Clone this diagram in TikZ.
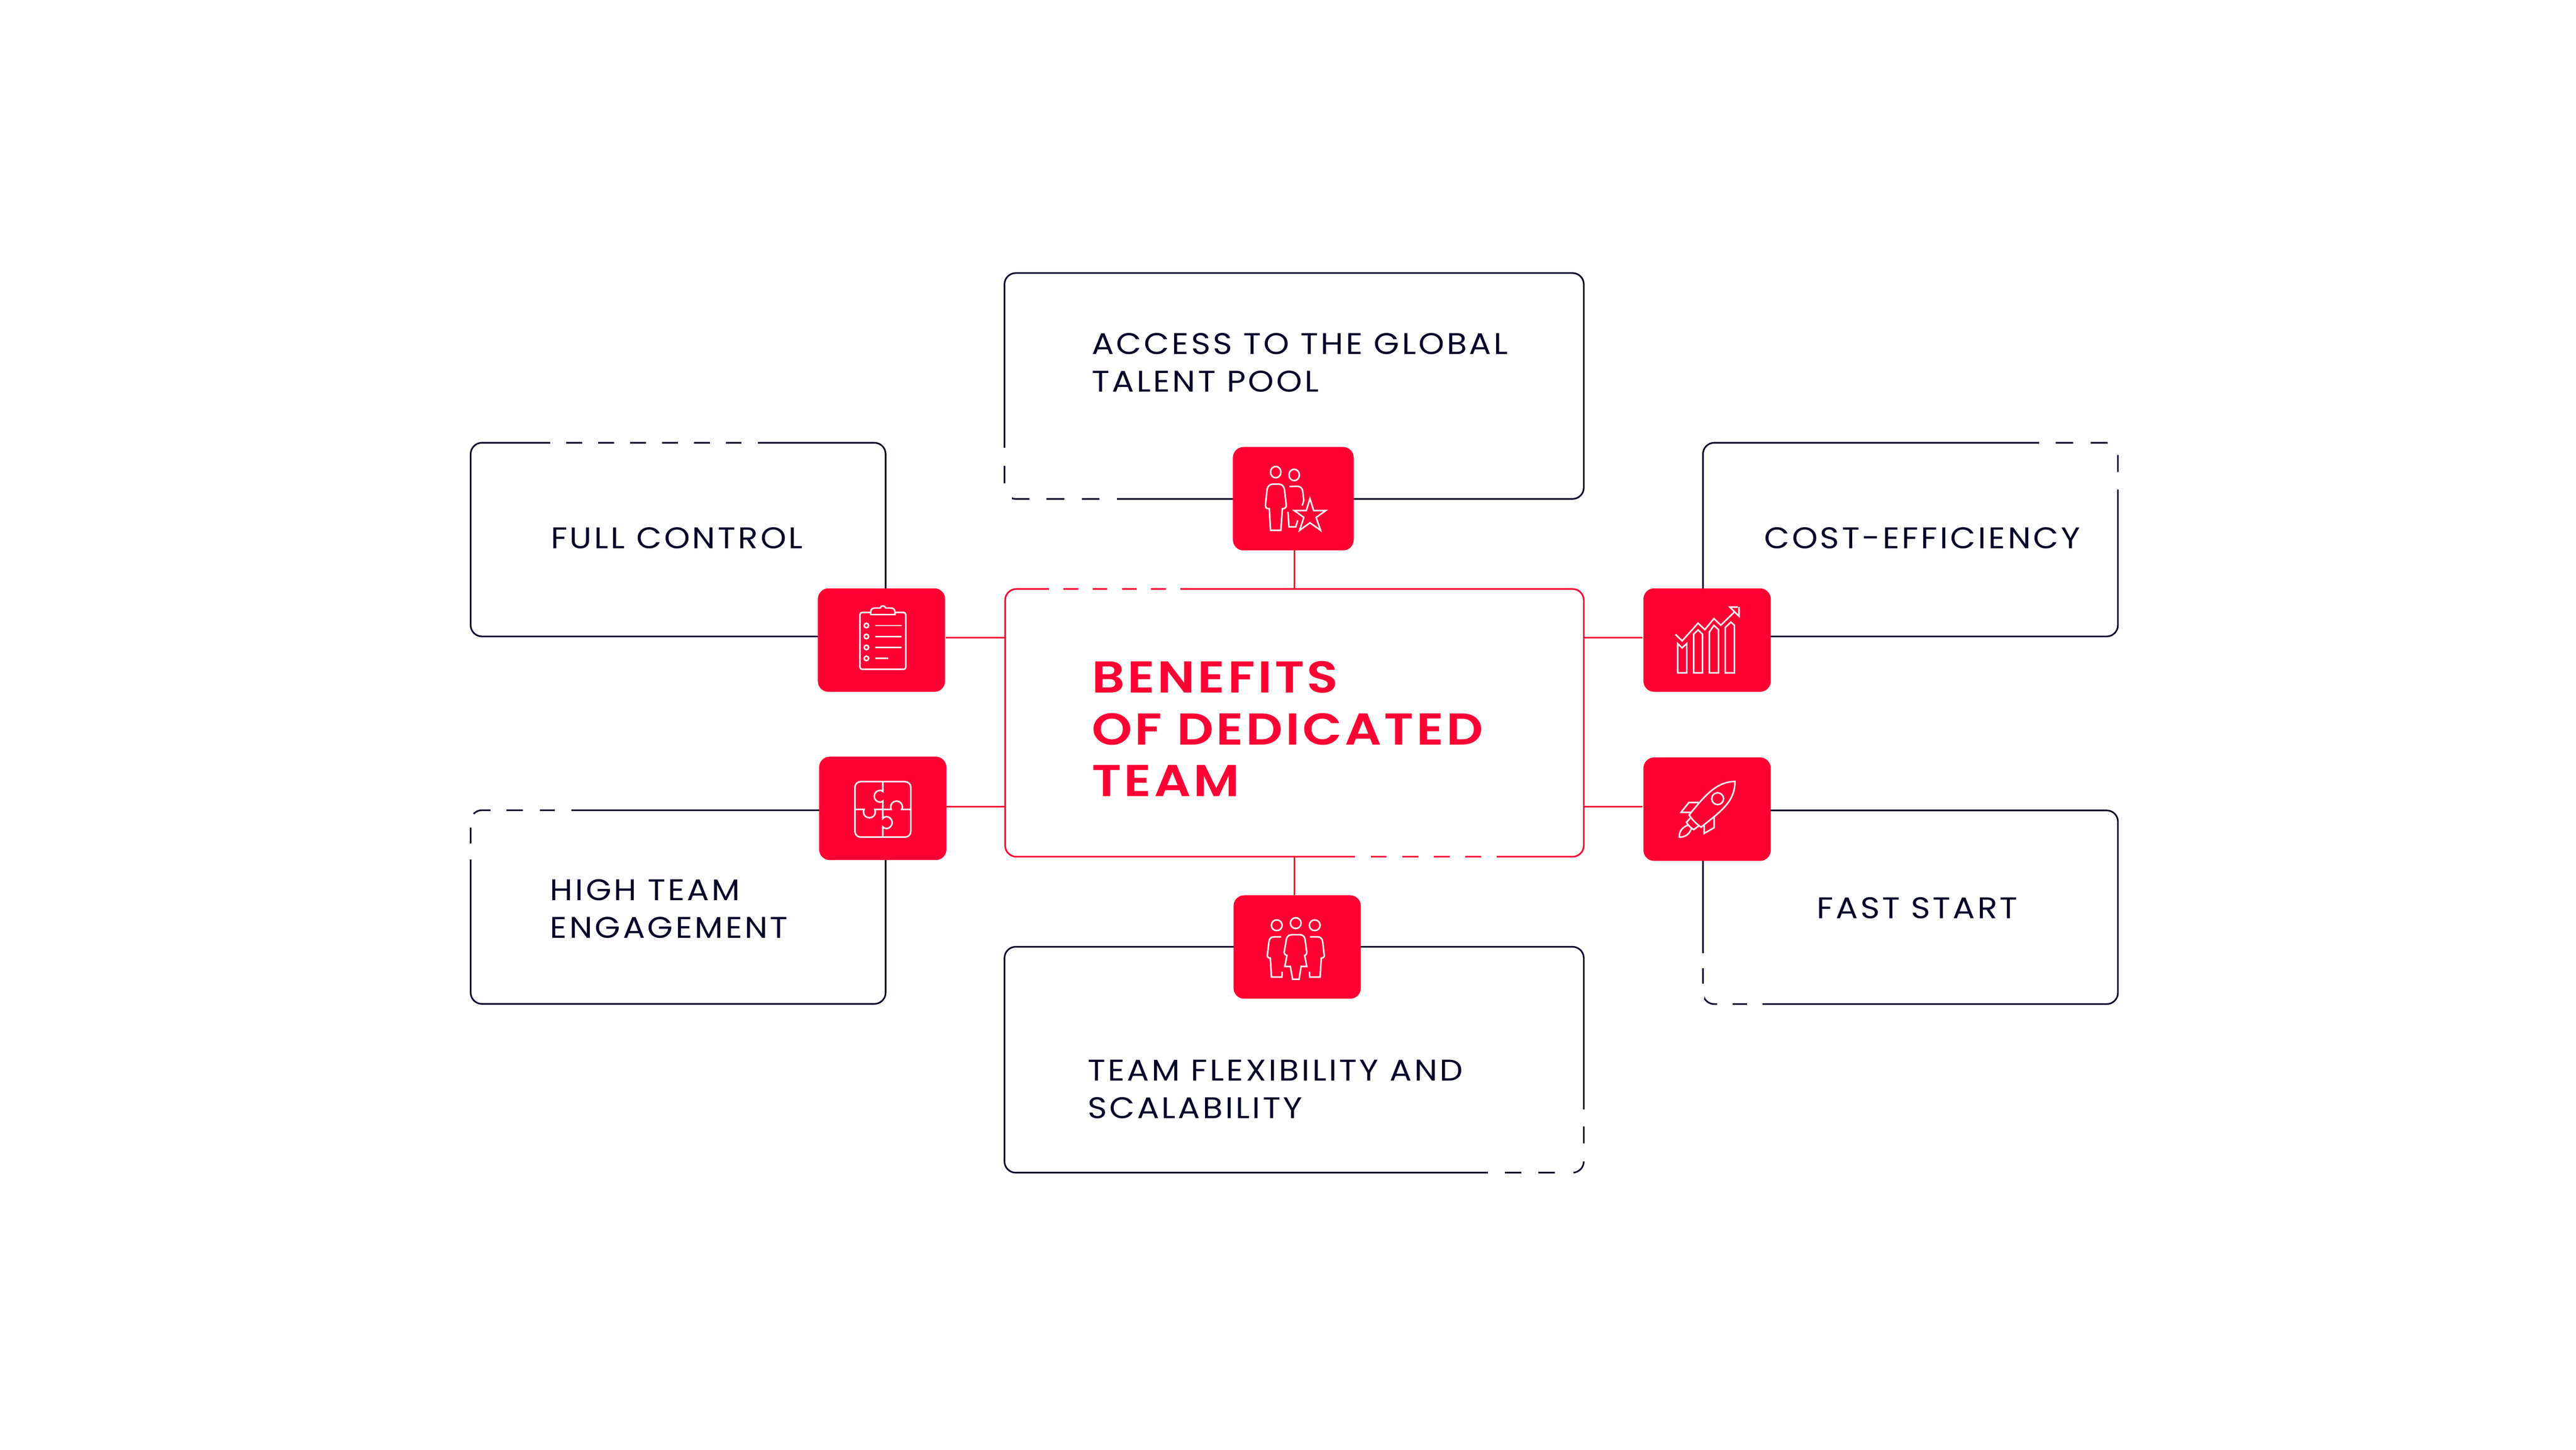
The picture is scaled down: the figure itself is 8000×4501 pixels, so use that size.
\documentclass[tikz,border=0pt]{standalone}
\usepackage{fontspec}
\usetikzlibrary{positioning, calc}
\definecolor{brandred}{RGB}{255,0,51}
\definecolor{cardnavy}{RGB}{4,4,40}
\newfontfamily\cardfont[LetterSpace=8,FakeStretch=1.1]{Poppins}
\newfontfamily\titlefont[LetterSpace=6,FakeStretch=1.15]{Poppins SemiBold}
\tikzset{
  cardbox/.style={draw=cardnavy, line width=0.05cm, rounded corners=0.35cm, inner sep=0pt, outer sep=0pt},
  mainbox/.style={cardbox, draw=brandred},
  iconbox/.style={fill=brandred, rounded corners=0.33cm, inner sep=0pt, outer sep=0pt, minimum width=3.95cm, minimum height=3.21cm},
  cardtext/.style={text=cardnavy, inner sep=0pt, align=left, anchor=base west, font=\cardfont\fontsize{26.4}{33.2}\selectfont},
  titletext/.style={text=brandred, inner sep=0pt, align=left, anchor=base west, font=\titlefont\fontsize{39.4}{45.7}\selectfont},
  linkline/.style={draw=brandred, line width=0.05cm},
  gapline/.style={draw=white, line width=0.09cm},
  iconline/.style={draw=white, line width=0.047cm, miter limit=10},
  iconscope/.style={scale=0.3333},
}
\begin{document}
\begin{tikzpicture}[x=0.01cm, y=-0.01cm]
  \useasboundingbox (0,0) rectangle (8000,4501);

  % Cards
  \node[cardbox, minimum width=17.98cm, minimum height=7.01cm] (talentcard) at (4019,1198.5) {};
  \node[cardbox, minimum width=12.88cm, minimum height=6.01cm] (controlcard) at (2106,1675.5) {};
  \node[cardbox, minimum width=12.88cm, minimum height=6.01cm] (costcard) at (5933,1675.5) {};
  \node[cardbox, minimum width=12.88cm, minimum height=6.01cm] (engagecard) at (2106,2816.5) {};
  \node[cardbox, minimum width=12.88cm, minimum height=6.01cm] (startcard) at (5933,2817) {};
  \node[cardbox, minimum width=17.98cm, minimum height=7.01cm] (flexcard) at (4019,3290.5) {};
  \node[mainbox, minimum width=17.96cm, minimum height=8.31cm] (mainbox) at (4020,2244.5) {};

  % Broken parts of the outlines
  \foreach \a in {1709,1808,1907,2006,2105,2204,2303}
    \draw[gapline] (\a,1375) -- +(50,0);
  \foreach \a/\b in {6332/6384,6438/6492}
    \draw[gapline] (\a,1375) -- (\b,1375);
  \draw[gapline] (6577,1466) -- (6577,1520);
  \fill[white] (6546,1365) rectangle (6590,1412);
  \foreach \a/\b in {3197/3250,3305/3360,3415/3469}
    \draw[gapline] (\a,1549) -- (\b,1549);
  \draw[gapline] (3120,1391) -- (3120,1447);
  \fill[white] (3112,1500) rectangle (3143,1557);
  \foreach \a/\b in {1523/1572,1624/1676,1723/1775}
    \draw[gapline] (\a,2516) -- (\b,2516);
  \draw[gapline] (1462,2619) -- (1462,2669);
  \fill[white] (1454,2527) rectangle (1472,2569);
  \foreach \a/\b in {2960/3007,3054/3100}
    \draw[gapline] (5289,\a) -- (5289,\b);
  \foreach \a/\b in {5333/5380,5426/5474}
    \draw[gapline] (\a,3117.5) -- (\b,3117.5);
  \foreach \a/\b in {4621/4673,4725/4777,4829/4887}
    \draw[gapline] (\a,3641) -- (\b,3641);
  \foreach \a/\b in {3445/3498,3551/3606}
    \draw[gapline] (4918,\a) -- (4918,\b);
  \foreach \a/\b in {3257.5/3302,3348.4/3393,3439/3484,3530/3575,3620/3666}
    \draw[gapline] (\a,1829) -- (\b,1829);
  \foreach \a/\b in {4207.5/4257,4305.6/4355,4404/4453,4502/4550,4600/4648.5}
    \draw[gapline] (\a,2660) -- (\b,2660);

  % Icon squares
  \node[iconbox, minimum width=3.75cm] (talenticon) at (4016.5,1548.5) {};
  \node[iconbox] (controlicon) at (2737.5,1987.5) {};
  \node[iconbox] (costicon) at (5301.5,1987.5) {};
  \node[iconbox] (engageicon) at (2741.5,2510) {};
  \node[iconbox] (starticon) at (5301.5,2512.5) {};
  \node[iconbox] (flexicon) at (4028.5,2940.5) {};

  % Links
  \coordinate (mainwa) at (3122,1980);
  \coordinate (mainwb) at (3122,2505);
  \coordinate (mainea) at (4918,1980);
  \coordinate (maineb) at (4918,2505);
  \draw[linkline, shorten >=0.03cm] (mainwa) -- (mainwa -| controlicon.east);
  \draw[linkline] (mainwb) -- (mainwb -| engageicon.east);
  \draw[linkline, shorten >=0.03cm] (mainea) -- (mainea -| costicon.west);
  \draw[linkline, shorten >=0.03cm] (maineb) -- (maineb -| starticon.west);
  \draw[linkline] (mainbox.north) -- (mainbox.north |- talenticon.south);
  \draw[linkline] (mainbox.south) -- (mainbox.south |- flexicon.north);

  % Talent icon
  \begin{scope}[shift={(3700,1350)}, xscale=0.3827, yscale=0.3333]
    \draw[iconline] (684,348) ellipse (42 and 53);
    \draw[iconline] (834,374) ellipse (42 and 53);
    \draw[iconline] (642,890) -- (632,688) -- (622,688) .. controls (608,688) and (600,672) .. (600,660)
      -- (614,510) .. controls (618,480) and (635,460) .. (660,460) -- (712,460)
      .. controls (735,460) and (750,480) .. (755,510) -- (770,660) .. controls (770,672) and (760,688) .. (745,688)
      -- (738,688) -- (726,890) -- cycle;
    \draw[iconline] (795,482) -- (860,480) .. controls (885,480) and (900,500) .. (903,525) -- (912,612) -- (899,660);
    \draw[iconline] (783,718) -- (792,858) -- (847,858) -- (862,797);
    \draw[iconline] (962,595) -- (992,706) -- (1090,706) -- (1012,770) -- (1048,890) -- (962,820)
      -- (878,890) -- (912,770) -- (835,706) -- (932,706) -- cycle;
  \end{scope}

  % Clipboard icon
  \begin{scope}[shift={(2500,1800)}, iconscope]
    \draw[iconline, rounded corners=0.07cm] (610,305) -- (512,305) -- (512,835) -- (939,835) -- (939,305) -- (840,305);
    \draw[iconline] (612,325) -- (612,300) .. controls (612,275) and (630,264) .. (650,264) -- (700,264)
      .. controls (705,250) and (715,244) .. (726,244) .. controls (737,244) and (747,250) .. (752,264) -- (800,264)
      .. controls (820,264) and (838,275) .. (838,300) -- (838,325) -- cycle;
    \foreach \yy/\xx in {427/899,529/899,631/899,733/776} {
      \draw[iconline] (572,\yy) circle (21);
      \draw[iconline] (653,\yy) -- (\xx,\yy);
    }
  \end{scope}

  % Chart icon
  \begin{scope}[shift={(5050,1800)}, iconscope]
    \draw[iconline] (460,510) -- (522,570) -- (670,405) -- (734,465) -- (818,362) -- (882,424) -- (1010,300);
    \draw[iconline] (1040,255) -- (966,255) -- (1052,340) -- (1052,255);
    \draw[iconline] (480,595) -- (480,868) -- (565,868) -- (565,595) -- (522,635) -- cycle;
    \draw[iconline] (629,868) -- (629,508) -- (670,468) -- (712,508) -- (712,868) -- cycle;
    \draw[iconline] (776,868) -- (776,487) -- (818,425) -- (860,465) -- (860,868) -- cycle;
    \draw[iconline] (924,868) -- (924,445) -- (976,395) -- (1009,425) -- (1009,868) -- cycle;
  \end{scope}

  % Puzzle icon
  \begin{scope}[shift={(2500,2320)}, iconscope]
    \draw[iconline, rounded corners=0.18cm] (465,321) rectangle (986,838);
    \draw[iconline] (725,321) -- (725,412) .. controls (717,405) and (708,402) .. (700,402)
      .. controls (670,402) and (645,427) .. (645,457) .. controls (645,487) and (670,512) .. (700,512)
      .. controls (708,512) and (717,509) .. (725,502) -- (725,665)
      .. controls (735,653) and (745,647) .. (758,647) .. controls (788,647) and (812,672) .. (812,702)
      .. controls (812,732) and (788,758) .. (758,758) .. controls (745,758) and (735,752) .. (725,742) -- (725,838);
    \draw[iconline] (465,580) -- (550,580) .. controls (546,588) and (545,597) .. (545,605)
      .. controls (545,635) and (570,658) .. (600,658) .. controls (630,658) and (655,635) .. (655,605)
      .. controls (655,597) and (653,588) .. (650,580) -- (803,580)
      .. controls (800,572) and (798,565) .. (798,557) .. controls (798,527) and (823,502) .. (853,502)
      .. controls (883,502) and (908,527) .. (908,557) .. controls (908,565) and (905,572) .. (900,580) -- (986,580);
  \end{scope}

  % Rocket icon
  \begin{scope}[shift={(5050,2320)}, iconscope]
    \draw[iconline] (1014,320) .. controls (850,320) and (740,440) .. (587,632)
      .. controls (620,680) and (650,710) .. (698,745) .. controls (880,600) and (1014,510) .. (1014,320) -- cycle;
    \draw[iconline] (853,480) circle (55);
    \draw[iconline] (675,515) -- (585,515) -- (512,607) -- (605,607);
    \draw[iconline] (820,650) -- (820,750) -- (728,803) -- (728,725);
    \draw[iconline] (597,662) -- (562,700) .. controls (580,730) and (600,750) .. (630,768) -- (675,735);
    \draw[iconline] (575,727) .. controls (520,748) and (495,785) .. (495,838) .. controls (550,840) and (590,810) .. (607,760);
  \end{scope}

  % Team icon
  \begin{scope}[shift={(3800,2750)}, iconscope]
    \foreach \xx/\yy in {495/369,672/349,849/369}
      \draw[iconline] (\xx,\yy) circle (50);
    \draw[iconline] (536,477) -- (470,477) .. controls (440,477) and (425,495) .. (422,525) -- (407,650)
      .. controls (405,665) and (418,675) .. (435,675) -- (446,851) -- (543,851) -- (545,802);
    \draw[iconline] (805,477) -- (875,477) .. controls (905,477) and (920,495) .. (923,525) -- (938,650)
      .. controls (940,665) and (925,675) .. (910,675) -- (899,851) -- (802,851) -- (800,802);
    \draw[iconline] (643,872) -- (703,872) -- (722,753) -- (775,753) -- (755,650)
      .. controls (770,645) and (778,632) .. (775,620) -- (758,495) .. controls (752,472) and (735,457) .. (710,457)
      -- (635,457) .. controls (610,457) and (592,472) .. (586,495) -- (564,620)
      .. controls (562,632) and (572,645) .. (590,650) -- (570,753) -- (622,753) -- cycle;
  \end{scope}

  % Labels
  \node[titletext] (maintitle) at (3390,2473) {BENEFITS\\OF DEDICATED\\TEAM};
  \node[cardtext] (talentlabel) at (3390,1217) {ACCESS TO THE GLOBAL\\TALENT POOL};
  \node[cardtext] (controllabel) at (1710,1703) {FULL CONTROL};
  \node[cardtext] (costlabel) at (5478,1703) {COST-EFFICIENCY};
  \node[cardtext] (engagelabel) at (1708,2912) {HIGH TEAM\\ENGAGEMENT};
  \node[cardtext] (startlabel) at (5642,2852) {FAST START};
  \node[cardtext] (flexlabel) at (3377,3472) {TEAM FLEXIBILITY AND\\SCALABILITY};
\end{tikzpicture}
\end{document}
